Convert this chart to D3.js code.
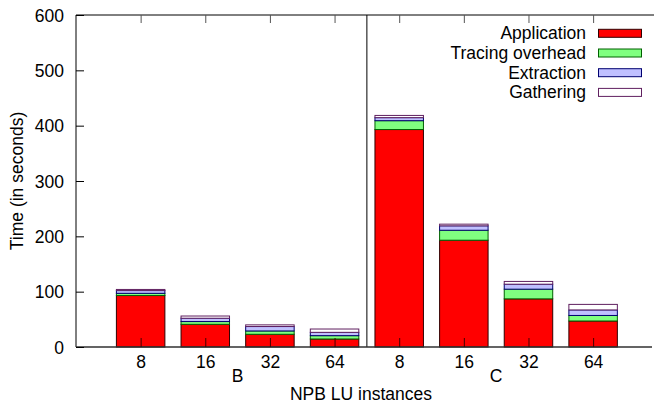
<!DOCTYPE html>
<html>
<head>
<meta charset="UTF-8">
<title>NPB LU instances</title>
<style>
  body { margin: 0; background: #fff; }
  svg { font-family: "Liberation Sans", Arial, sans-serif; }
  text { fill: #000; }
</style>
</head>
<body>
<svg width="657" height="405"></svg>
<script src="https://cdn.jsdelivr.net/npm/d3@7"></script>
<script>
// data
const instances = ["8", "16", "32", "64", "8", "16", "32", "64"];
const groups = ["B", "C"];
const application = [93, 41, 23, 14.5, 393, 193, 87, 47];
const tracing = [4, 5, 6, 6, 16, 18, 17.5, 10];
const extraction = [5, 6, 8, 6, 5.5, 8, 9, 10];
const gathering = [2, 4, 3, 6, 4, 3, 5, 10];
const seriesNames = ["Application", "Tracing overhead", "Extraction", "Gathering"];
const yTicks = [0, 100, 200, 300, 400, 500, 600];

const fills = ["#ff0000", "#80ff80", "#c0c0ff", "#ffffff"];
const strokes = ["#300000", "#006000", "#000070", "#602060"];

const svg = d3.select("svg");
const plotLeft = 76, plotRight = 650, plotTop = 15, plotBottom = 347;

const x = d3.scaleLinear().domain([-1, 7.88]).range([plotLeft, plotRight]);
const y = d3.scaleLinear().domain([0, 600]).range([plotBottom, plotTop]);
const barW = x(0.75) - x(0);

const rows = instances.map((d, i) => ({
  i: i,
  application: application[i],
  tracing: tracing[i],
  extraction: extraction[i],
  gathering: gathering[i]
}));
const stack = d3.stack().keys(["application", "tracing", "extraction", "gathering"])(rows);

// bars
svg.append("g").selectAll("g")
  .data(stack)
  .join("g")
  .attr("fill", (d, k) => fills[k])
  .attr("stroke", (d, k) => strokes[k])
  .attr("stroke-width", 1)
  .selectAll("rect")
  .data(d => d)
  .join("rect")
  .attr("x", d => x(d.data.i) - barW / 2)
  .attr("width", barW)
  .attr("y", d => y(d[1]))
  .attr("height", d => y(d[0]) - y(d[1]));

// separator between the two classes
svg.append("line")
  .attr("x1", x(3.5)).attr("x2", x(3.5))
  .attr("y1", plotTop).attr("y2", plotBottom)
  .attr("stroke", "#000");

// borders
const border = svg.append("g").attr("stroke", "#000").attr("stroke-width", 1).attr("fill", "none");
border.append("line").attr("x1", plotLeft).attr("x2", plotLeft).attr("y1", plotTop).attr("y2", plotBottom);
border.append("line").attr("x1", plotLeft).attr("x2", plotRight + 4).attr("y1", plotTop).attr("y2", plotTop);
border.append("line").attr("x1", plotLeft).attr("x2", plotRight + 2).attr("y1", plotBottom).attr("y2", plotBottom)
  .attr("stroke", "#303030").attr("stroke-width", 1.5);

// y axis
const yAxis = d3.axisRight(y).tickValues(yTicks).tickSize(8).tickPadding(0).tickFormat(d3.format("d"));
const gy = svg.append("g").attr("transform", `translate(${plotLeft},0)`).call(yAxis);
gy.select(".domain").remove();
gy.selectAll(".tick line").attr("stroke", "#000");
gy.selectAll(".tick text")
  .attr("x", -12).attr("text-anchor", "end").attr("dy", "0.35em")
  .style("font-size", "17.5px").style("font-family", "Liberation Sans, Arial, sans-serif");

// x axis (ticks pointing inward)
const xAxis = d3.axisTop(x).tickValues(d3.range(instances.length)).tickSize(9)
  .tickFormat(i => instances[i]);
const gx = svg.append("g").attr("transform", `translate(0,${plotBottom})`).call(xAxis);
gx.select(".domain").remove();
gx.selectAll(".tick line").attr("stroke", "#400000");
gx.selectAll(".tick text")
  .attr("y", 21).attr("dy", 0)
  .style("font-size", "17.5px").style("font-family", "Liberation Sans, Arial, sans-serif");

// mirrored ticks on top
const xTop = d3.axisBottom(x).tickValues(d3.range(instances.length)).tickSize(8).tickFormat("");
const gt = svg.append("g").attr("transform", `translate(0,${plotTop})`).call(xTop);
gt.select(".domain").remove();
gt.selectAll(".tick line").attr("stroke", "#555");

// group labels
svg.append("g").selectAll("text")
  .data(groups)
  .join("text")
  .attr("x", (d, g) => x(g * 4 + 1.5))
  .attr("y", 382)
  .attr("text-anchor", "middle")
  .style("font-size", "17.5px")
  .text(d => d);

// axis titles
svg.append("text")
  .attr("x", (plotLeft + plotRight) / 2 - 2)
  .attr("y", 400)
  .attr("text-anchor", "middle")
  .style("font-size", "17.5px")
  .text("NPB LU instances");

svg.append("text")
  .attr("transform", `translate(23,${(plotTop + plotBottom) / 2}) rotate(-90)`)
  .attr("text-anchor", "middle")
  .style("font-size", "17.5px")
  .text("Time (in seconds)");

// legend
const legend = svg.append("g").selectAll("g")
  .data(seriesNames)
  .join("g")
  .attr("transform", (d, k) => `translate(0,${33.3 + k * 19.7})`);
legend.append("text")
  .attr("x", 586)
  .attr("y", 6)
  .attr("text-anchor", "end")
  .style("font-size", "17.5px")
  .text(d => d);
legend.append("rect")
  .attr("x", 598.5).attr("y", -4)
  .attr("width", 43).attr("height", 8)
  .attr("fill", (d, k) => fills[k])
  .attr("stroke", (d, k) => strokes[k])
  .attr("stroke-width", 1);
</script>
</body>
</html>
